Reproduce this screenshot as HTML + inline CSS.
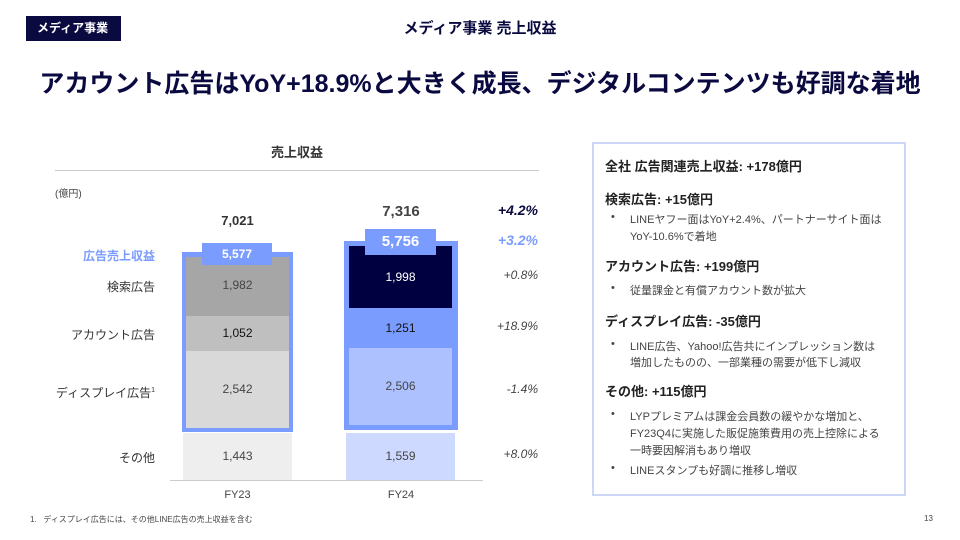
<!DOCTYPE html>
<html><head><meta charset="utf-8"><style>
*{margin:0;padding:0;box-sizing:border-box}
body{width:960px;height:540px;background:#fff;position:relative;overflow:hidden;font-family:"Liberation Sans","Noto Sans CJK JP",sans-serif;color:#333}
.a{position:absolute;white-space:nowrap}
.c{text-align:center}
.r{text-align:right}
.n{color:#0a0a40}
.pc{font-style:italic;font-size:12px;color:#444;text-align:right;width:80px;left:458px}
.lb{font-size:12px;color:#333;text-align:right;width:140px;left:15px}
.v{font-size:12px;color:#444;text-align:center}
.h{font-size:13px;font-weight:bold;color:#222;left:605px}
.b{font-size:11px;color:#444;left:611px}
.t{font-size:11px;color:#444;left:630px}
</style></head><body>
<div class="a" style="left:26px;top:16px;width:95px;height:25px;background:#0a0a40;color:#fff;font-size:12px;font-weight:bold;line-height:25px;padding-left:11px">メディア事業</div>
<div class="a n c" style="left:280px;width:400px;top:17px;font-size:15px;font-weight:bold">メディア事業 売上収益</div>
<div class="a n c" style="left:0;width:960px;top:64px;font-size:25px;font-weight:bold;letter-spacing:0">アカウント広告はYoY+18.9%と大きく成長、デジタルコンテンツも好調な着地</div>

<div class="a c" style="left:55px;width:484px;top:142px;font-size:13px;font-weight:bold;color:#333">売上収益</div>
<div class="a" style="left:55px;top:170px;width:484px;height:1px;background:#ccc"></div>
<div class="a" style="left:55px;top:185px;font-size:10px;color:#444">(億円)</div>

<div class="lb a" style="top:247px;color:#7b9cff;font-weight:bold">広告売上収益</div>
<div class="lb a" style="top:278px">検索広告</div>
<div class="lb a" style="top:326px">アカウント広告</div>
<div class="lb a" style="top:384px">ディスプレイ広告<sup style="font-size:7px">1</sup></div>
<div class="lb a" style="top:449px">その他</div>

<div class="a v" style="left:182px;width:111px;top:213px;font-size:13px;font-weight:bold;color:#333">7,021</div>
<div class="a" style="left:182px;top:252px;width:111px;height:180px;background:#7b9cff"></div>
<div class="a v" style="left:186px;top:257px;width:103px;height:59px;background:#a6a6a6;line-height:56px">1,982</div>
<div class="a v" style="left:186px;top:316px;width:103px;height:35px;background:#bfbfbf;line-height:35px;color:#111">1,052</div>
<div class="a v" style="left:186px;top:351px;width:103px;height:77px;background:#d9d9d9;line-height:77px">2,542</div>
<div class="a v" style="left:183px;top:433px;width:109px;height:47px;background:#eeeeee;line-height:47px">1,443</div>
<div class="a v" style="left:202px;top:243px;width:70px;height:22px;background:#7b9cff;color:#fff;font-weight:bold;line-height:22px">5,577</div>
<div class="a v" style="left:182px;width:111px;top:489px;font-size:11px">FY23</div>

<div class="a v n" style="left:344px;width:114px;top:203px;font-size:15px;font-weight:bold">7,316</div>
<div class="a" style="left:344px;top:241px;width:114px;height:189px;background:#7b9cff"></div>
<div class="a v" style="left:349px;top:246px;width:103px;height:62px;background:#000040;line-height:62px;color:#fff">1,998</div>
<div class="a v" style="left:349px;top:308px;width:103px;height:40px;line-height:40px;color:#111">1,251</div>
<div class="a v" style="left:349px;top:348px;width:103px;height:77px;background:#adc1ff;line-height:77px">2,506</div>
<div class="a v" style="left:346px;top:433px;width:109px;height:47px;background:#cdd9ff;line-height:47px">1,559</div>
<div class="a v" style="left:365px;top:229px;width:71px;height:26px;background:#7b9cff;color:#fff;font-weight:bold;font-size:15px;line-height:26px">5,756</div>
<div class="a v" style="left:344px;width:114px;top:489px;font-size:11px">FY24</div>

<div class="a" style="left:170px;top:480px;width:313px;height:1px;background:#ccc"></div>

<div class="a pc n" style="top:202px;font-size:14px;font-weight:bold;color:#0a0a40">+4.2%</div>
<div class="a pc" style="top:232px;font-size:14px;font-weight:bold;color:#7b9cff">+3.2%</div>
<div class="a pc" style="top:268px">+0.8%</div>
<div class="a pc" style="top:319px">+18.9%</div>
<div class="a pc" style="top:382px">-1.4%</div>
<div class="a pc" style="top:447px">+8.0%</div>

<div class="a" style="left:592px;top:142px;width:314px;height:354px;border:2px solid #ccd6f6"></div>
<div class="a h" style="top:156px">全社 広告関連売上収益: +178億円</div>
<div class="a h" style="top:189px">検索広告: +15億円</div>
<div class="a b" style="top:211px">•</div>
<div class="a t" style="top:211px">LINEヤフー面はYoY+2.4%、パートナーサイト面は</div>
<div class="a t" style="top:228px">YoY-10.6%で着地</div>
<div class="a h" style="top:256px">アカウント広告: +199億円</div>
<div class="a b" style="top:282px">•</div>
<div class="a t" style="top:282px">従量課金と有償アカウント数が拡大</div>
<div class="a h" style="top:311px">ディスプレイ広告: -35億円</div>
<div class="a b" style="top:338px">•</div>
<div class="a t" style="top:338px">LINE広告、Yahoo!広告共にインプレッション数は</div>
<div class="a t" style="top:354px">増加したものの、一部業種の需要が低下し減収</div>
<div class="a h" style="top:381px">その他: +115億円</div>
<div class="a b" style="top:408px">•</div>
<div class="a t" style="top:408px">LYPプレミアムは課金会員数の緩やかな増加と、</div>
<div class="a t" style="top:425px">FY23Q4に実施した販促施策費用の売上控除による</div>
<div class="a t" style="top:442px">一時要因解消もあり増収</div>
<div class="a b" style="top:462px">•</div>
<div class="a t" style="top:462px">LINEスタンプも好調に推移し増収</div>

<div class="a" style="left:30px;top:514px;font-size:8px;color:#444">1.&nbsp;&nbsp; ディスプレイ広告には、その他LINE広告の売上収益を含む</div>
<div class="a" style="left:924px;top:514px;font-size:8px;color:#444">13</div>
</body></html>
